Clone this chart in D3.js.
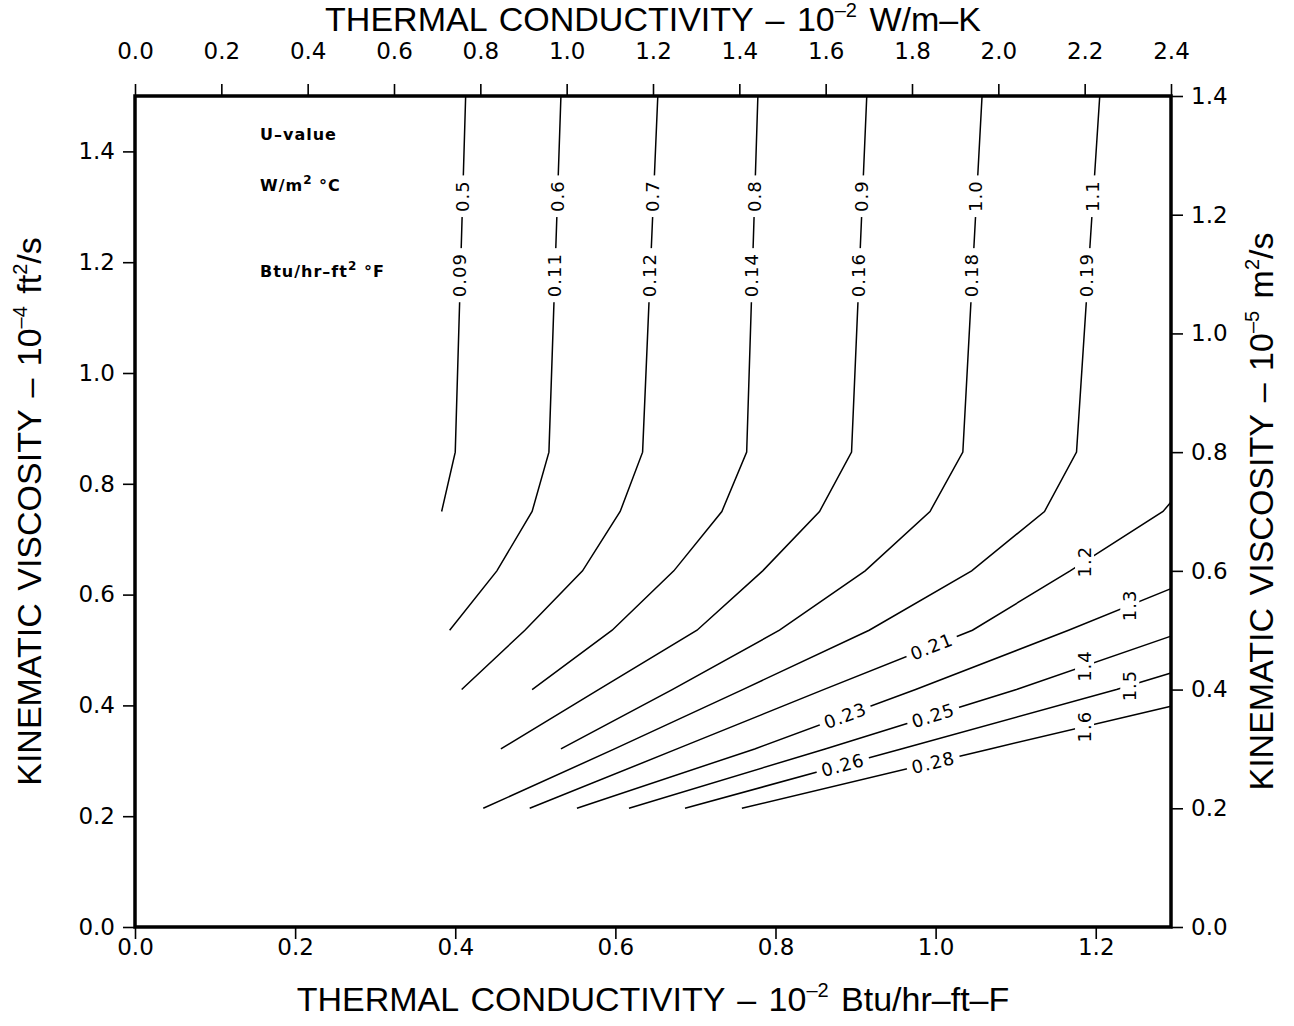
<!DOCTYPE html>
<html>
<head>
<meta charset="utf-8">
<script src="https://cdn.jsdelivr.net/npm/d3@7"></script>
<style>
  body { margin: 0; background: #fff; }
  svg { display: block; }
</style>
</head>
<body>
<svg id="chart" width="1294" height="1026"></svg>
<script>
// tick values
const bottomTicks = [0.0, 0.2, 0.4, 0.6, 0.8, 1.0, 1.2]
const topTicks = [0.0, 0.2, 0.4, 0.6, 0.8, 1.0, 1.2, 1.4, 1.6, 1.8, 2.0, 2.2, 2.4]
const leftTicks = [0.0, 0.2, 0.4, 0.6, 0.8, 1.0, 1.2, 1.4]
const rightTicks = [0.0, 0.2, 0.4, 0.6, 0.8, 1.0, 1.2, 1.4]

// U-value labels, W/m2 C and Btu/hr-ft2 F
const uSI = ["0.5", "0.6", "0.7", "0.8", "0.9", "1.0", "1.1", "1.2", "1.3", "1.4", "1.5", "1.6"]
const uIP = ["0.09", "0.11", "0.12", "0.14", "0.16", "0.18", "0.19", "0.21", "0.23", "0.25", "0.26", "0.28"]

// contour lines: [conductivity 10^-2 Btu/hr-ft-F, viscosity 10^-5 m2/s]
const line05 = [[0.413, 1.4], [0.400, 0.8], [0.383, 0.7]]
const line06 = [[0.532, 1.4], [0.517, 0.8], [0.496, 0.7], [0.452, 0.6], [0.393, 0.5]]
const line07 = [[0.653, 1.4], [0.634, 0.8], [0.606, 0.7], [0.559, 0.6], [0.487, 0.5], [0.408, 0.4]]
const line08 = [[0.778, 1.4], [0.764, 0.8], [0.733, 0.7], [0.673, 0.6], [0.596, 0.5], [0.496, 0.4]]
const line09 = [[0.914, 1.4], [0.895, 0.8], [0.855, 0.7], [0.784, 0.6], [0.702, 0.5], [0.579, 0.4], [0.457, 0.3]]
const line10 = [[1.058, 1.4], [1.034, 0.8], [0.993, 0.7], [0.912, 0.6], [0.805, 0.5], [0.671, 0.4], [0.532, 0.3]]
const line11 = [[1.205, 1.4], [1.176, 0.8], [1.136, 0.7], [1.045, 0.6], [0.917, 0.5], [0.759, 0.4], [0.599, 0.3], [0.435, 0.2]]
const line12 = [[0.493, 0.2], [0.677, 0.3], [0.860, 0.4], [1.046, 0.5], [1.168, 0.6], [1.284, 0.7], [1.294, 0.716]]
const line13 = [[0.552, 0.2], [0.774, 0.3], [0.975, 0.4], [1.166, 0.5], [1.294, 0.57]]
const line14 = [[0.617, 0.2], [0.862, 0.3], [1.101, 0.4], [1.294, 0.49]]
const line15 = [[0.687, 0.2], [0.957, 0.3], [1.226, 0.4], [1.294, 0.428]]
const line16 = [[0.758, 0.2], [1.068, 0.3], [1.294, 0.372]]

const contours = [line05, line06, line07, line08, line09, line10, line11,
  line12, line13, line14, line15, line16]

// where labels sit along the lines (data units)
const vertSIAt = 1.2045 // viscosity at lower end of SI label, upper group
const vertIPAt = 1.061 // viscosity at lower end of IP label, upper group
const lowSIAt = [1.186, 1.2425, 1.186, 1.2425, 1.186] // conductivity, lower group
const lowIPAt = [0.995, 0.887, 0.997, 0.884, 0.997]

const plotLeft = 135, plotRight = 1171, plotTop = 96, plotBottom = 927

const x = d3.scaleLinear().domain([0, 1.294]).range([plotLeft, plotRight])
const xTop = d3.scaleLinear().domain([0, 2.4]).range([plotLeft, plotRight])
const yLeft = d3.scaleLinear().domain([0, 1.5]).range([plotBottom, plotTop])
const y = d3.scaleLinear().domain([0, 1.4]).range([plotBottom, plotTop])

const svg = d3.select("#chart")
const fmt = d3.format(".1f")
const tickFont = "DejaVu Sans"
const titleFont = "Liberation Sans"

function styleAxis(g) {
  g.select(".domain").remove()
  g.attr("font-family", tickFont).attr("font-size", 23)
  g.selectAll(".tick line").attr("stroke", "#000").attr("stroke-width", 1.6)
  g.selectAll(".tick text").attr("fill", "#000")
}

svg.append("g")
  .attr("transform", `translate(0,${plotBottom})`)
  .call(d3.axisBottom(x).tickValues(bottomTicks).tickFormat(fmt).tickSize(12).tickPadding(0))
  .call(styleAxis)

svg.append("g")
  .attr("transform", `translate(0,${plotTop})`)
  .call(d3.axisTop(xTop).tickValues(topTicks).tickFormat(fmt).tickSize(12).tickPadding(25))
  .call(styleAxis)

svg.append("g")
  .attr("transform", `translate(${plotLeft},0)`)
  .call(d3.axisLeft(yLeft).tickValues(leftTicks).tickFormat(fmt).tickSize(12).tickPadding(8))
  .call(styleAxis)

svg.append("g")
  .attr("transform", `translate(${plotRight},0)`)
  .call(d3.axisRight(y).tickValues(rightTicks).tickFormat(fmt).tickSize(12).tickPadding(8))
  .call(styleAxis)

// frame
svg.append("rect")
  .attr("x", plotLeft).attr("y", plotTop)
  .attr("width", plotRight - plotLeft).attr("height", plotBottom - plotTop)
  .attr("fill", "none").attr("stroke", "#000").attr("stroke-width", 3.5)

// titles; entries given as arrays are superscripts
function title(tx, ty, rot, parts) {
  const t = svg.append("text")
    .attr("transform", `translate(${tx},${ty}) rotate(${rot})`)
    .attr("text-anchor", "middle")
    .attr("font-family", titleFont)
    .attr("font-size", 34)
    .attr("word-spacing", 3)
    .attr("fill", "#000")
  let shift = 0
  parts.forEach(p => {
    if (Array.isArray(p)) {
      t.append("tspan").attr("font-size", 20).attr("dy", -14 - shift).text(p[0])
      shift = -14
    } else {
      t.append("tspan").attr("dy", -shift).text(p)
      shift = 0
    }
  })
}

const midX = (plotLeft + plotRight) / 2
const midY = (plotTop + plotBottom) / 2
title(midX, 31, 0, ["THERMAL CONDUCTIVITY – 10", ["–2"], " W/m–K"])
title(midX, 1011, 0, ["THERMAL CONDUCTIVITY – 10", ["–2"], " Btu/hr–ft–F"])
title(41, midY, -90, ["KINEMATIC VISCOSITY – 10", ["–4"], " ft", ["2"], "/s"])
title(1273, midY, -90, ["KINEMATIC VISCOSITY – 10", ["–5"], " m", ["2"], "/s"])

// legend text
const legend = svg.append("g")
  .attr("font-family", tickFont).attr("font-size", 16)
  .attr("font-weight", 600)
  .attr("letter-spacing", 1).attr("fill", "#000")
legend.append("text").attr("x", 260).attr("y", 140).text("U–value")
const l2 = legend.append("text").attr("x", 260).attr("y", 191)
l2.append("tspan").text("W/m")
l2.append("tspan").attr("font-size", 12).attr("dy", -7).text("2")
l2.append("tspan").attr("dy", 7).text(" °C")
const l3 = legend.append("text").attr("x", 260).attr("y", 277)
l3.append("tspan").text("Btu/hr–ft")
l3.append("tspan").attr("font-size", 12).attr("dy", -7).text("2")
l3.append("tspan").attr("dy", 7).text(" °F")

// contour lines
const lineGen = d3.line().x(d => x(d[0])).y(d => y(d[1]))

svg.append("g")
  .selectAll("path")
  .data(contours)
  .enter()
  .append("path")
  .attr("d", lineGen)
  .attr("fill", "none")
  .attr("stroke", "#000")
  .attr("stroke-width", 1.5)

// helpers to find a point on a line
function atNu(pts, nu) {
  for (let i = 0; i < pts.length - 1; i++) {
    const a = pts[i], b = pts[i + 1]
    if ((nu - a[1]) * (nu - b[1]) <= 0) {
      const t = (nu - a[1]) / (b[1] - a[1])
      return { k: a[0] + t * (b[0] - a[0]), a, b }
    }
  }
  return { k: pts[0][0], a: pts[0], b: pts[1] }
}

function atK(pts, k) {
  for (let i = 0; i < pts.length - 1; i++) {
    const a = pts[i], b = pts[i + 1]
    if ((k - a[0]) * (k - b[0]) <= 0) {
      const t = (k - a[0]) / (b[0] - a[0])
      return { nu: a[1] + t * (b[1] - a[1]), a, b }
    }
  }
  return { nu: pts[0][1], a: pts[0], b: pts[1] }
}

const labelLayer = svg.append("g")
  .attr("font-family", tickFont).attr("font-size", 18).attr("letter-spacing", 1)

function label(px, py, angle, anchor, txt) {
  const g = labelLayer.append("g").attr("transform", `translate(${px},${py}) rotate(${angle})`)
  const t = g.append("text")
    .attr("text-anchor", anchor)
    .attr("dominant-baseline", "central")
    .attr("fill", "#000")
    .text(txt)
  const bb = t.node().getBBox()
  g.insert("rect", "text")
    .attr("x", bb.x - 5).attr("y", bb.y + 1)
    .attr("width", bb.width + 10).attr("height", bb.height - 2)
    .attr("fill", "#fff")
}

// upper group: vertical labels
for (let i = 0; i < 7; i++) {
  const s = atNu(contours[i], vertSIAt)
  label(x(s.k), y(vertSIAt), -90, "start", uSI[i])
  const p = atNu(contours[i], vertIPAt)
  label(x(p.k), y(vertIPAt), -90, "start", uIP[i])
}

// lower group: SI vertical, IP along the line
for (let j = 0; j < 5; j++) {
  const pts = contours[7 + j]
  const s = atK(pts, lowSIAt[j])
  label(x(lowSIAt[j]), y(s.nu), -90, "middle", uSI[7 + j])
  const p = atK(pts, lowIPAt[j])
  const ang = Math.atan2(y(p.b[1]) - y(p.a[1]), x(p.b[0]) - x(p.a[0])) * 180 / Math.PI
  label(x(lowIPAt[j]), y(p.nu), ang, "middle", uIP[7 + j])
}
</script>
</body>
</html>
